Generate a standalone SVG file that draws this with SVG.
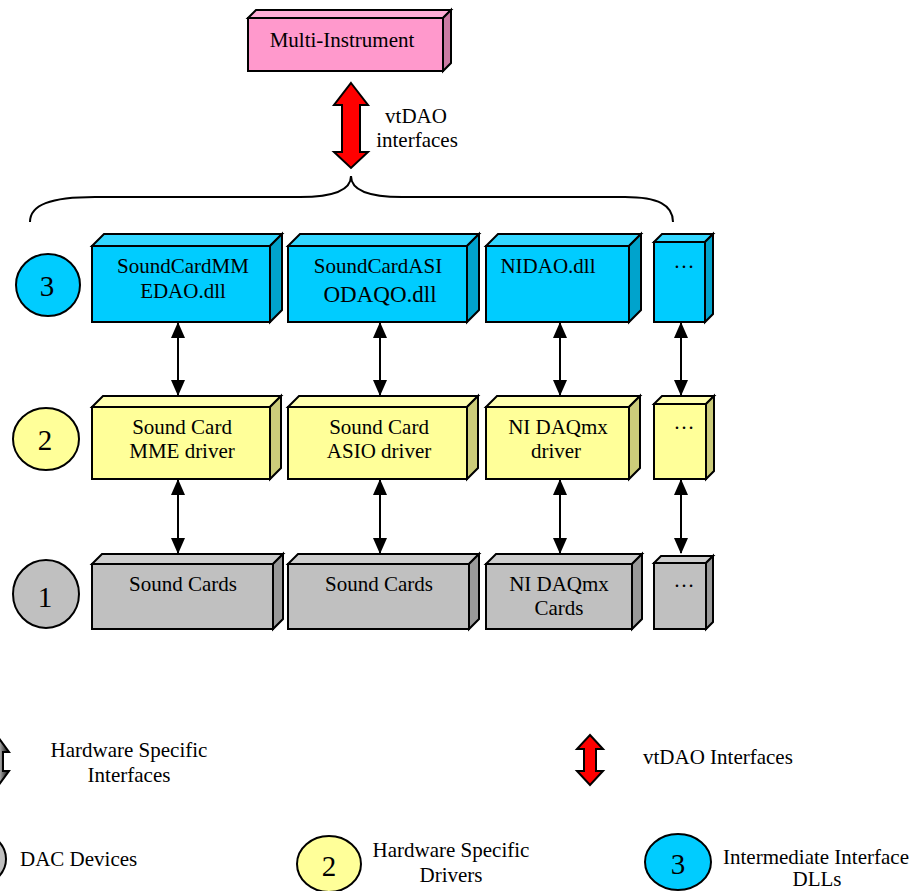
<svg xmlns="http://www.w3.org/2000/svg" width="915" height="891" viewBox="0 0 915 891">
<style>
text{font-family:"Liberation Serif","Times New Roman",serif;fill:#000;}
.t{font-size:21px;text-anchor:middle;}
.n{font-size:29px;text-anchor:middle;}
.l{font-size:21px;}
.lc{font-size:21px;text-anchor:middle;}
.e{stroke:#000;stroke-width:2;stroke-linejoin:miter;}
.bf{fill:#00CCFF}.bt{fill:#33D6FF}.bs{fill:#00A3CC}
.yf{fill:#FFFF99}.yt{fill:#FFFFB0}.ys{fill:#CCCC7A}
.gf{fill:#C0C0C0}.gt{fill:#CDCDCD}.gs{fill:#999999}
.pf{fill:#FF99CC}.pt{fill:#FFADD6}.ps{fill:#CC7AA3}
.conn{stroke:#000;stroke-width:2;fill:none;marker-start:url(#ah);marker-end:url(#ah);}
.red{fill:#FF0000;stroke:#000;stroke-width:2;stroke-linejoin:miter;}
</style>
<defs>
<marker id="ah" viewBox="0 0 16 14" refX="15" refY="7" markerWidth="16" markerHeight="14" markerUnits="userSpaceOnUse" orient="auto-start-reverse">
<path d="M0,0 L16,7 L0,14 Z" fill="#000"/>
</marker>
<linearGradient id="bw" x1="0" y1="0" x2="1" y2="0">
<stop offset="0" stop-color="#000"/><stop offset="0.5" stop-color="#fff"/><stop offset="1" stop-color="#000"/>
</linearGradient>
</defs>

<!-- Multi-Instrument -->
<g id="multi-instrument">
<polygon class="e pt" points="248,18 256,10 451,10 443,18"/>
<polygon class="e ps" points="443,18 451,10 451,63 443,71"/>
<rect class="e pf" x="248" y="18" width="195" height="53"/>
<text class="t" x="342" y="47">Multi-Instrument</text>
</g>

<!-- vtDAO interfaces arrow -->
<g id="vtdao-arrow">
<polygon class="red" points="351,83 368,105 360,105 360,152 368,152 351,168 334,152 342,152 342,105 334,105"/>
<text class="lc" x="416" y="123">vtDAO</text>
<text class="lc" x="417" y="147">interfaces</text>
</g>

<!-- brace -->
<g id="brace">
<path d="M30,222 C30,205 50,197 95,197 L300,197 C335,197 351,190 351,176 C351,190 367,197 402,197 L625,197 C658,197 673,205 673,222" fill="none" stroke="#000" stroke-width="2"/>
</g>

<!-- Level 3 -->
<g id="circle3"><ellipse class="e bf" cx="48" cy="285" rx="32" ry="31"/><text class="n" x="47" y="296">3</text></g>
<g id="dll-mme">
<polygon class="e bt" points="92,246 104,234 282,234 270,246"/>
<polygon class="e bs" points="270,246 282,234 282,310 270,322"/>
<rect class="e bf" x="92" y="246" width="178" height="76"/>
<text class="t" x="183" y="273">SoundCardMM</text>
<text class="t" x="183" y="298">EDAO.dll</text>
</g>
<g id="dll-asio">
<polygon class="e bt" points="288,246 300,234 479,234 467,246"/>
<polygon class="e bs" points="467,246 479,234 479,310 467,322"/>
<rect class="e bf" x="288" y="246" width="179" height="76"/>
<text class="t" x="378" y="273">SoundCardASI</text>
<text class="t" x="380" y="302" style="font-size:23px">ODAQO.dll</text>
</g>
<g id="dll-ni">
<polygon class="e bt" points="486,246 498,234 641,234 629,246"/>
<polygon class="e bs" points="629,246 641,234 641,310 629,322"/>
<rect class="e bf" x="486" y="246" width="143" height="76"/>
<text class="t" x="548" y="273">NIDAO.dll</text>
</g>
<g id="dll-more">
<polygon class="e bt" points="654,242 662,234 713,234 705,242"/>
<polygon class="e bs" points="705,242 713,234 713,314 705,322"/>
<rect class="e bf" x="654" y="242" width="51" height="80"/>
<text class="t" x="684" y="268">…</text>
</g>

<!-- Level 2 -->
<g id="circle2"><ellipse class="e yf" cx="46" cy="439" rx="33" ry="31"/><text class="n" x="45" y="450">2</text></g>
<g id="drv-mme">
<polygon class="e yt" points="92,407 103,396 281,396 270,407"/>
<polygon class="e ys" points="270,407 281,396 281,468 270,479"/>
<rect class="e yf" x="92" y="407" width="178" height="72"/>
<text class="t" x="182" y="434">Sound Card</text>
<text class="t" x="182" y="458">MME driver</text>
</g>
<g id="drv-asio">
<polygon class="e yt" points="288,407 299,396 478,396 467,407"/>
<polygon class="e ys" points="467,407 478,396 478,468 467,479"/>
<rect class="e yf" x="288" y="407" width="179" height="72"/>
<text class="t" x="379" y="434">Sound Card</text>
<text class="t" x="379" y="458">ASIO driver</text>
</g>
<g id="drv-ni">
<polygon class="e yt" points="486,407 497,396 640,396 629,407"/>
<polygon class="e ys" points="629,407 640,396 640,468 629,479"/>
<rect class="e yf" x="486" y="407" width="143" height="72"/>
<text class="t" x="558" y="434">NI DAQmx</text>
<text class="t" x="556" y="458">driver</text>
</g>
<g id="drv-more">
<polygon class="e yt" points="654,404 662,396 714,396 706,404"/>
<polygon class="e ys" points="706,404 714,396 714,471 706,479"/>
<rect class="e yf" x="654" y="404" width="52" height="75"/>
<text class="t" x="684" y="429">…</text>
</g>

<!-- Level 1 -->
<g id="circle1"><ellipse class="e gf" cx="46" cy="594" rx="33" ry="34"/><text class="n" x="45" y="607">1</text></g>
<g id="hw-sound1">
<polygon class="e gt" points="92,564 102,554 283,554 273,564"/>
<polygon class="e gs" points="273,564 283,554 283,619 273,629"/>
<rect class="e gf" x="92" y="564" width="181" height="65"/>
<text class="t" x="183" y="591">Sound Cards</text>
</g>
<g id="hw-sound2">
<polygon class="e gt" points="288,564 298,554 479,554 469,564"/>
<polygon class="e gs" points="469,564 479,554 479,619 469,629"/>
<rect class="e gf" x="288" y="564" width="181" height="65"/>
<text class="t" x="379" y="591">Sound Cards</text>
</g>
<g id="hw-ni">
<polygon class="e gt" points="486,564 496,554 642,554 632,564"/>
<polygon class="e gs" points="632,564 642,554 642,619 632,629"/>
<rect class="e gf" x="486" y="564" width="146" height="65"/>
<text class="t" x="559" y="591">NI DAQmx</text>
<text class="t" x="559" y="615">Cards</text>
</g>
<g id="hw-more">
<polygon class="e gt" points="654,563 661,556 713,556 706,563"/>
<polygon class="e gs" points="706,563 713,556 713,622 706,629"/>
<rect class="e gf" x="654" y="563" width="52" height="66"/>
<text class="t" x="684" y="587">…</text>
</g>

<!-- connectors -->
<g id="connectors">
<line class="conn" x1="178" y1="323" x2="178" y2="395"/>
<line class="conn" x1="380" y1="323" x2="380" y2="395"/>
<line class="conn" x1="560" y1="323" x2="560" y2="395"/>
<line class="conn" x1="681" y1="323" x2="681" y2="395"/>
<line class="conn" x1="178" y1="480" x2="178" y2="553"/>
<line class="conn" x1="380" y1="480" x2="380" y2="553"/>
<line class="conn" x1="560" y1="480" x2="560" y2="553"/>
<line class="conn" x1="681" y1="480" x2="681" y2="553"/>
</g>

<!-- legend -->
<g id="legend-hw-interfaces">
<polygon points="-5,733 9,752 3,752 3,771 9,771 -5,790 -19,771 -13,771 -13,752 -19,752" fill="url(#bw)" stroke="#000" stroke-width="2"/>
<text class="lc" x="129" y="757">Hardware Specific</text>
<text class="lc" x="129" y="782">Interfaces</text>
</g>
<g id="legend-vtdao">
<polygon class="red" points="590,735 603,749 596,749 596,771 603,771 590,785 577,771 584,771 584,749 577,749"/>
<text class="l" x="643" y="764">vtDAO Interfaces</text>
</g>
<g id="legend-1">
<ellipse class="e gf" cx="-27" cy="859" rx="33" ry="28"/>
<text class="l" x="20" y="866">DAC Devices</text>
</g>
<g id="legend-2">
<ellipse class="e yf" cx="329" cy="864" rx="32" ry="28"/>
<text class="n" x="329" y="876">2</text>
<text class="lc" x="451" y="857">Hardware Specific</text>
<text class="lc" x="451" y="882">Drivers</text>
</g>
<g id="legend-3">
<ellipse class="e bf" cx="678" cy="862" rx="33" ry="28"/>
<text class="n" x="678" y="874">3</text>
<text class="lc" x="816" y="864">Intermediate Interface</text>
<text class="lc" x="817" y="886">DLLs</text>
</g>
</svg>
